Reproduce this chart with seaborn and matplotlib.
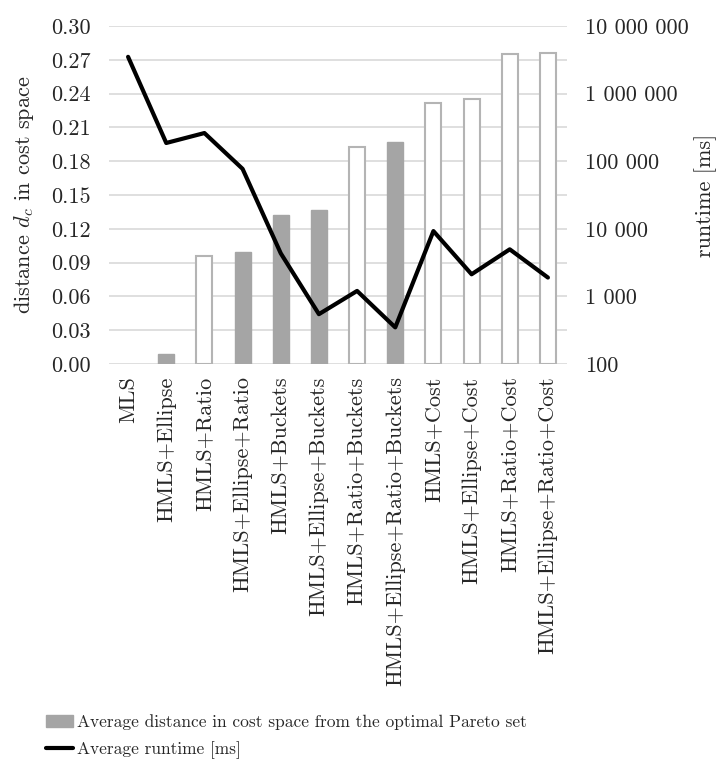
import numpy as np
import pandas as pd
import matplotlib
matplotlib.use("Agg")
import matplotlib.pyplot as plt
import seaborn as sns
from matplotlib.patches import Patch
from matplotlib.lines import Line2D
from matplotlib.ticker import FixedLocator, FuncFormatter, NullLocator

# data
methods = ["MLS", "HMLS+Ellipse", "HMLS+Ratio", "HMLS+Ellipse+Ratio",
           "HMLS+Buckets", "HMLS+Ellipse+Buckets", "HMLS+Ratio+Buckets",
           "HMLS+Ellipse+Ratio+Buckets", "HMLS+Cost", "HMLS+Ellipse+Cost",
           "HMLS+Ratio+Cost", "HMLS+Ellipse+Ratio+Cost"]
distance = [0.0, 0.009, 0.096, 0.099, 0.132, 0.137, 0.193, 0.197,
            0.232, 0.235, 0.275, 0.276]
filled = [False, True, False, True, True, True, False, True,
          False, False, False, False]
runtime = [3500000, 186000, 261000, 77000, 4340, 546, 1205, 348,
           9250, 2125, 4970, 1900]

sns.set_theme(style="white")
plt.rcParams['font.family'] = ['cmr10', 'DejaVu Serif']
plt.rcParams['mathtext.fontset'] = 'cm'
plt.rcParams['axes.formatter.use_mathtext'] = True

gray = "#a5a5a5"
edge = "#b4b4b4"
grid = "#d9d9d9"
fs = 16

df = pd.DataFrame({"method": methods, "distance": distance, "runtime": runtime})

fig = plt.figure(figsize=(7.16, 7.67), dpi=100)
ax = fig.add_axes([109 / 716, 1 - 364 / 767, 458 / 716, 338 / 767])

sns.barplot(data=df, x="method", y="distance", color=gray, width=0.42,
            ax=ax, zorder=2)
for p, f, d in zip(ax.patches, filled, distance):
    if f:
        p.set_facecolor(gray)
        p.set_edgecolor(gray)
    else:
        p.set_facecolor("white")
        p.set_edgecolor(edge)
        p.set_linewidth(1.5 if d > 0 else 0)

ax.set_ylim(0, 0.30)
ax.set_xlim(-0.5, len(methods) - 0.5)
ax.set_yticks(np.arange(0, 0.301, 0.03))
ax.yaxis.set_major_formatter(FuncFormatter(lambda v, _: f"{v:.2f}"))
ax.yaxis.grid(True, color=grid, linewidth=1.2, zorder=0)
ax.set_axisbelow(True)
for s in ax.spines.values():
    s.set_visible(False)
ax.tick_params(axis="both", length=0, labelsize=fs)
ax.tick_params(axis="y", pad=13)
ax.tick_params(axis="x", rotation=90, pad=9)
ax.set_xlabel("")
ax.set_ylabel("distance $d_c$ in cost space", fontsize=fs, labelpad=11)

ax2 = ax.twinx()
sns.lineplot(x=np.arange(len(methods)), y=runtime, color="black",
             linewidth=3, ax=ax2)
ax2.set_yscale("log")
ax2.set_ylim(100, 1e7)
ax2.yaxis.set_major_locator(FixedLocator([1e2, 1e3, 1e4, 1e5, 1e6, 1e7]))
ax2.yaxis.set_minor_locator(NullLocator())
ax2.yaxis.set_major_formatter(
    FuncFormatter(lambda v, _: f"{int(round(v)):,}".replace(",", " ")))
for s in ax2.spines.values():
    s.set_visible(False)
ax2.tick_params(axis="y", length=0, labelsize=fs, pad=13)
ax2.set_ylabel("runtime [ms]", fontsize=fs, labelpad=4)
ax2.set_xlim(-0.5, len(methods) - 0.5)

handles = [Patch(facecolor=gray, edgecolor=gray),
           Line2D([0], [0], color="black", linewidth=3)]
labels = ["Average distance in cost space from the optimal Pareto set",
          "Average runtime [ms]"]
fig.legend(handles, labels, loc="lower left", bbox_to_anchor=(0.055, 0.002),
           frameon=False, fontsize=12.5, handlelength=1.55, handletextpad=0.2,
           labelspacing=0.6, borderaxespad=0.0)

fig.savefig("out.png", dpi=100)
